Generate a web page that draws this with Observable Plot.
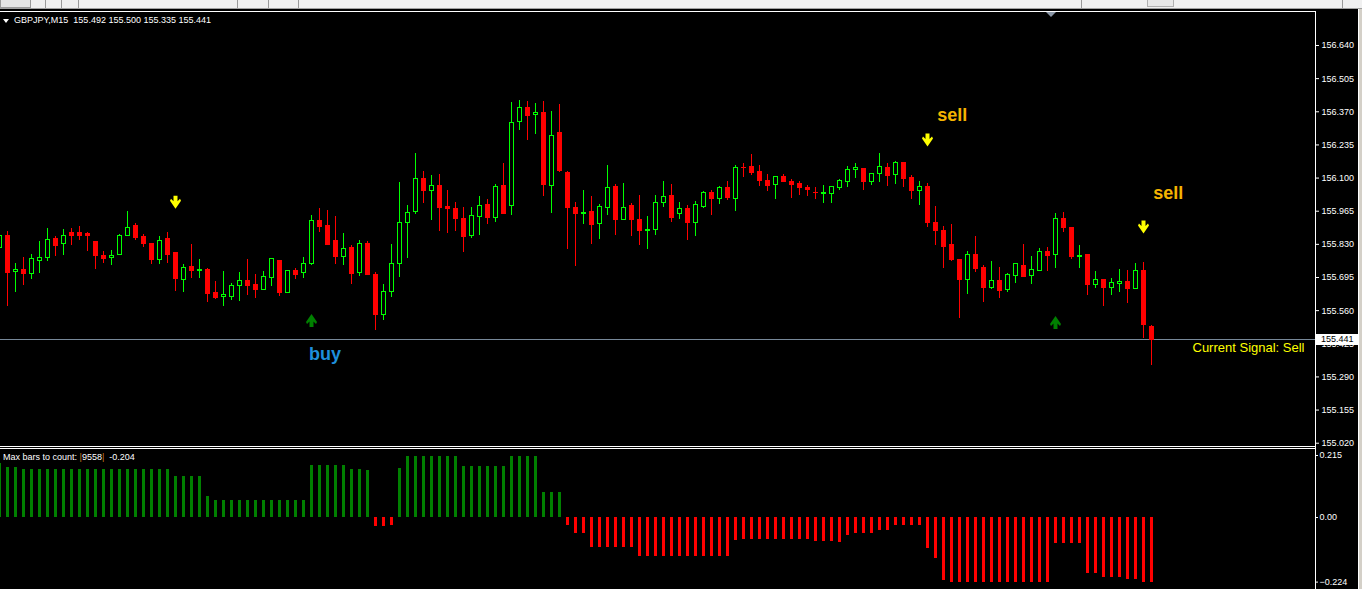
<!DOCTYPE html>
<html><head><meta charset="utf-8">
<script src="https://cdn.jsdelivr.net/npm/d3@7"></script>
<script src="https://cdn.jsdelivr.net/npm/@observablehq/plot@0.6"></script>
<style>
html,body{margin:0;padding:0;background:#000;}
#wrap{position:relative;width:1362px;height:589px;background:#000;overflow:hidden;font-family:"Liberation Sans",Arial,sans-serif;}
#wrap>*{position:absolute;}
.txt{color:#fff;font-size:9px;line-height:11px;white-space:pre;}
</style></head><body><div id="wrap"></div>
<script>
// ---------- data ----------
const symbol = "GBPJPY", period = "M15";
const firstIndex = -1; // bar index of the first (partly hidden) candle
const openP = [155.814,155.862,155.717,155.724,155.710,155.761,155.775,155.850,155.830,155.875,155.878,155.871,155.838,155.784,155.774,155.786,155.863,155.903,155.858,155.833,155.765,155.850,155.793,155.686,155.736,155.721,155.724,155.630,155.615,155.615,155.661,155.679,155.663,155.643,155.692,155.764,155.631,155.720,155.713,155.749,155.927,155.903,155.842,155.778,155.817,155.713,155.833,155.707,155.541,155.637,155.751,155.918,155.963,156.097,156.048,156.068,155.984,155.976,155.935,155.863,155.941,155.992,155.936,156.066,155.985,156.329,156.386,156.356,156.367,156.069,156.282,156.119,155.980,155.953,155.960,155.914,155.979,156.062,155.930,155.988,155.931,155.884,155.888,155.999,156.025,155.953,155.972,155.916,155.981,156.041,156.013,156.058,156.013,156.143,156.147,156.123,156.090,156.071,156.106,156.086,156.074,156.058,156.041,156.034,156.034,156.058,156.083,156.132,156.135,156.082,156.116,156.139,156.112,156.163,156.102,156.046,156.062,155.915,155.886,155.829,155.768,155.683,155.788,155.732,155.654,155.679,155.646,155.703,155.740,155.703,155.720,155.797,155.788,155.935,155.895,155.780,155.788,155.666,155.683,155.654,155.669,155.675,155.650,155.720,155.492];
const highP = [155.874,155.882,155.752,155.777,155.788,155.842,155.895,155.862,155.890,155.895,155.903,155.878,155.840,155.801,155.805,155.870,155.964,155.915,155.870,155.833,155.862,155.878,155.798,155.748,155.829,155.768,155.731,155.679,155.720,155.671,155.716,155.768,155.707,155.720,155.772,155.764,155.724,155.732,155.777,155.947,155.976,155.968,155.943,155.873,155.825,155.846,155.842,155.716,155.667,155.829,156.082,155.987,156.200,156.127,156.110,156.114,156.049,156.000,155.980,155.980,156.025,156.013,156.072,156.159,156.407,156.416,156.412,156.404,156.412,156.371,156.400,156.127,156.000,156.049,156.025,155.992,156.151,156.074,156.078,155.996,156.029,155.943,156.029,156.086,156.074,156.000,155.988,156.005,156.045,156.049,156.066,156.086,156.151,156.159,156.196,156.151,156.114,156.106,156.114,156.094,156.086,156.070,156.062,156.070,156.066,156.094,156.147,156.159,156.135,156.119,156.200,156.159,156.167,156.163,156.110,156.086,156.078,155.984,155.903,155.911,155.768,155.801,155.862,155.744,155.760,155.736,155.711,155.748,155.829,155.781,155.813,155.817,155.956,155.960,155.899,155.825,155.788,155.720,155.683,155.691,155.728,155.724,155.752,155.756,155.500];
const lowP = [155.805,155.576,155.634,155.663,155.687,155.713,155.761,155.782,155.784,155.826,155.846,155.801,155.728,155.753,155.745,155.786,155.860,155.846,155.818,155.749,155.749,155.752,155.639,155.634,155.691,155.691,155.594,155.605,155.576,155.601,155.597,155.622,155.609,155.643,155.658,155.618,155.631,155.687,155.691,155.744,155.878,155.825,155.748,155.745,155.668,155.700,155.704,155.480,155.521,155.615,155.696,155.774,155.950,155.998,155.928,155.884,155.875,155.884,155.798,155.855,155.867,155.912,155.920,155.953,155.949,156.295,156.254,156.279,156.025,155.957,156.124,155.810,155.741,155.912,155.830,155.851,155.949,155.867,155.930,155.862,155.825,155.809,155.866,155.980,155.920,155.932,155.846,155.862,155.978,155.948,155.992,156.009,155.964,156.102,156.110,156.066,156.045,156.013,156.082,156.017,156.029,156.025,156.013,155.996,155.996,156.049,156.062,156.098,156.049,156.070,156.082,156.066,156.074,156.062,156.013,155.988,155.899,155.825,155.732,155.760,155.528,155.626,155.715,155.593,155.646,155.609,155.634,155.671,155.695,155.667,155.720,155.720,155.732,155.878,155.768,155.732,155.622,155.650,155.576,155.622,155.634,155.589,155.646,155.448,155.335];
const closeP = [155.866,155.713,155.724,155.709,155.771,155.775,155.849,155.825,155.866,155.866,155.866,155.863,155.782,155.772,155.783,155.862,155.897,155.855,155.830,155.765,155.844,155.788,155.688,155.735,155.721,155.724,155.627,155.613,155.622,155.661,155.679,155.660,155.643,155.695,155.772,155.630,155.720,155.707,155.748,155.927,155.899,155.829,155.777,155.812,155.709,155.832,155.704,155.541,155.637,155.751,155.918,155.959,156.097,156.046,156.068,155.977,155.973,155.932,155.860,155.946,155.987,155.936,156.064,155.953,156.325,156.386,156.352,156.363,156.071,156.272,156.128,155.977,155.953,155.956,155.908,155.983,156.060,155.928,155.979,155.928,155.884,155.888,155.999,156.024,155.939,155.972,155.916,155.992,156.041,156.013,156.058,156.017,156.139,156.140,156.119,156.090,156.066,156.106,156.082,156.070,156.058,156.052,156.038,156.041,156.062,156.090,156.131,156.139,156.082,156.115,156.147,156.110,156.163,156.098,156.049,156.062,155.915,155.886,155.821,155.768,155.683,155.788,155.728,155.654,155.679,155.642,155.707,155.748,155.699,155.724,155.797,155.784,155.935,155.895,155.780,155.784,155.666,155.683,155.654,155.671,155.675,155.650,155.720,155.500,155.441];
const histValues = [0.186,0.174,0.174,0.166,0.166,0.166,0.166,0.166,0.166,0.166,0.166,0.166,0.166,0.166,0.166,0.166,0.166,0.166,0.166,0.166,0.166,0.166,0.143,0.143,0.143,0.143,0.073,0.059,0.059,0.059,0.059,0.059,0.059,0.059,0.059,0.059,0.059,0.059,0.059,0.180,0.180,0.180,0.180,0.180,0.167,0.167,0.163,-0.031,-0.031,-0.028,0.170,0.212,0.212,0.212,0.212,0.212,0.212,0.212,0.177,0.177,0.177,0.177,0.177,0.177,0.212,0.212,0.212,0.212,0.087,0.087,0.087,-0.027,-0.055,-0.055,-0.104,-0.104,-0.104,-0.104,-0.104,-0.104,-0.135,-0.135,-0.135,-0.135,-0.135,-0.135,-0.135,-0.135,-0.135,-0.135,-0.135,-0.135,-0.080,-0.076,-0.076,-0.076,-0.076,-0.076,-0.076,-0.076,-0.076,-0.076,-0.083,-0.083,-0.083,-0.087,-0.062,-0.055,-0.055,-0.055,-0.045,-0.045,-0.028,-0.028,-0.028,-0.028,-0.107,-0.142,-0.218,-0.224,-0.224,-0.224,-0.224,-0.224,-0.224,-0.224,-0.224,-0.224,-0.224,-0.224,-0.224,-0.224,-0.090,-0.090,-0.090,-0.090,-0.194,-0.194,-0.208,-0.208,-0.208,-0.215,-0.215,-0.224,-0.224];
const priceTicks = [156.640,156.505,156.370,156.235,156.100,155.965,155.830,155.695,155.560,155.425,155.290,155.155,155.020];
const histTicks = [0.215, 0, -0.224];
const currentPrice = 155.441;
const sellArrows = [{i:21, price:156.002},{i:115, price:156.255},{i:142, price:155.901}];
const buyArrows = [{i:38, price:155.520},{i:131, price:155.512}];
const signalLabels = [
  {text:"buy",  i:39.7,  price:155.382, color:"#1e8fdc"},
  {text:"sell", i:118.1, price:156.355, color:"#f5b400"},
  {text:"sell", i:145.1, price:156.037, color:"#f5b400"}
];
const signalText = "Current Signal: Sell";
const maxBars = 9558, indicatorValue = -0.204;

// ---------- build ----------
const bars = openP.map((o, j) => ({i: j + firstIndex, o, h: highP[j], l: lowP[j], c: closeP[j], up: closeP[j] >= o}));
const upBars = bars.filter(d => d.up);
const hist = histValues.map((v, j) => ({i: j + firstIndex, v}));

const W = 1362, MR = 47;
const xDomain = [-0.875, 163.5];
const font = "'Liberation Sans', Arial, sans-serif";
const UP = "#00ff00", DOWN = "#ff0000";

const arrowDown = {draw(ctx) {
  ctx.moveTo(-2,-6.5); ctx.lineTo(2,-6.5); ctx.lineTo(2,-1); ctx.lineTo(4.5,-3.5); ctx.lineTo(5.5,-1.5);
  ctx.lineTo(0,6.5); ctx.lineTo(-5.5,-1.5); ctx.lineTo(-4.5,-3.5); ctx.lineTo(-2,-1); ctx.closePath();
}};
const arrowUp = {draw(ctx) {
  ctx.moveTo(-2,6.5); ctx.lineTo(2,6.5); ctx.lineTo(2,1); ctx.lineTo(4.5,3.5); ctx.lineTo(5.5,1.5);
  ctx.lineTo(0,-6.5); ctx.lineTo(-5.5,1.5); ctx.lineTo(-4.5,3.5); ctx.lineTo(-2,1); ctx.closePath();
}};

const main = Plot.plot({
  width: W, height: 446, marginLeft: 0, marginRight: MR, marginTop: 12, marginBottom: 0,
  style: {background: "transparent", color: "white", fontFamily: font, fontSize: "9px", overflow: "visible"},
  x: {type: "linear", domain: xDomain, axis: null},
  y: {domain: [155.0066, 156.7744], axis: null},
  color: {type: "identity"},
  marks: [
    Plot.ruleY([currentPrice], {stroke: "#778899", shapeRendering: "crispEdges"}),
    // wicks
    Plot.ruleX(bars, {x: "i", y1: "l", y2: "h", stroke: d => d.up ? UP : DOWN, shapeRendering: "crispEdges"}),
    // bodies (filled), at least one pixel tall
    Plot.rect(bars, {x1: d => d.i - 0.3125, x2: d => d.i + 0.3125, y1: "o", y2: "c",
      insetTop: -0.5, insetBottom: -0.5, fill: d => d.up ? UP : DOWN, shapeRendering: "crispEdges"}),
    // hollow interior of bull candles
    Plot.rect(upBars, {x1: d => d.i - 0.3125, x2: d => d.i + 0.3125, y1: "o", y2: "c",
      insetTop: 0.5, insetBottom: 0.5, insetLeft: 1, insetRight: 1, fill: "#000000", shapeRendering: "crispEdges"}),
    Plot.dot(sellArrows, {x: "i", y: "price", symbol: arrowDown, fill: "#ffff00", stroke: "none", r: 6}),
    Plot.dot(buyArrows, {x: "i", y: "price", symbol: arrowUp, fill: "#008000", stroke: "none", r: 6}),
    Plot.text(signalLabels, {x: "i", y: "price", text: "text", fill: "color", fontSize: 18, fontWeight: "bold"}),
    Plot.text([signalText], {frameAnchor: "right", y: [currentPrice], text: d => d, dx: -11, dy: 8, fill: "#ffff00", fontSize: 13}),
    Plot.axisY(priceTicks, {anchor: "right", tickSize: 3, tickPadding: 3, tickFormat: d3.format(".3f"), label: null})
  ]
});

const sub = Plot.plot({
  width: W, height: 143, marginLeft: 0, marginRight: MR, marginTop: 3, marginBottom: 2,
  style: {background: "transparent", color: "white", fontFamily: font, fontSize: "9px", overflow: "visible"},
  x: {type: "linear", domain: xDomain, axis: null},
  y: {domain: [-0.2427, 0.2358], axis: null},
  color: {type: "identity"},
  marks: [
    Plot.ruleX(hist, {x: "i", y1: 0, y2: "v", stroke: d => d.v >= 0 ? "#008000" : "#ff0000", strokeWidth: 3, shapeRendering: "crispEdges"}),
    Plot.axisY(histTicks, {anchor: "right", tickSize: 2, tickPadding: 2, label: null,
      tickFormat: d => d === 0 ? "0.00" : d3.format(".3f")(d)})
  ]
});

const wrap = document.getElementById("wrap");
function box(css, html) { const d = document.createElement("div"); d.style.cssText = css; if (html) d.innerHTML = html; wrap.appendChild(d); return d; }

main.style.left = "0px"; main.style.top = "0px"; main.style.position = "absolute";
sub.style.left = "0px"; sub.style.top = "446px"; sub.style.position = "absolute";
wrap.appendChild(main);
wrap.appendChild(sub);

// toolbar strip
box("left:0;top:0;width:1362px;height:8px;background:#f0f0f0;border-bottom:1px solid #a0a0a0;");
[45, 61, 78, 237, 268, 298, 1081, 1342].forEach(x => box(`left:${x}px;top:0;width:1px;height:8px;background:#9a9a9a;`));
box("left:0;top:0;width:29px;height:7px;border:1px solid #9a9a9a;border-top:none;background:#e4e4e4;");
box("left:1147px;top:0;width:25px;height:6px;border:1px solid #b0b0b0;border-top:none;background:#e8e8e8;");
// frames
box("left:0;top:11px;width:1316px;height:1px;background:#fff;");
box("left:1315px;top:11px;width:1px;height:578px;background:#fff;");
box("left:0;top:446px;width:1316px;height:1px;background:#fff;");
box("left:0;top:448px;width:1316px;height:1px;background:#fff;");
box("left:1358px;top:9px;width:4px;height:580px;background:#d4d0c8;border-left:1px solid #fff;");
// shift marker
box("left:1046px;top:12px;width:0;height:0;border-left:5px solid transparent;border-right:5px solid transparent;border-top:5px solid #8a96a6;");
// title
box("left:3px;top:19px;width:0;height:0;border-left:3px solid transparent;border-right:3px solid transparent;border-top:4px solid #fff;");
const last = bars[bars.length - 1];
const ttl = box("left:14px;top:15px;");
ttl.className = "txt";
ttl.textContent = `${symbol},${period}  ${last.o.toFixed(3)} ${last.h.toFixed(3)} ${last.l.toFixed(3)} ${last.c.toFixed(3)}`;
// indicator label
const lab = box("left:3px;top:452px;");
lab.className = "txt";
lab.innerHTML = `Max bars to count: <span style="color:#d2781e">|</span>${maxBars}<span style="color:#d2781e">|</span>  ${indicatorValue.toFixed(3)}`;
// current price box (covers the 155.425 tick label like the terminal does)
const yPx = main.scale("y").apply(currentPrice);
const pb = box(`left:1316px;top:${(yPx - 5.5).toFixed(1)}px;width:37px;height:11px;background:#fff;color:#000;padding-left:5px;font-size:9px;line-height:11px;`);
pb.textContent = currentPrice.toFixed(3);
</script>
</body></html>
